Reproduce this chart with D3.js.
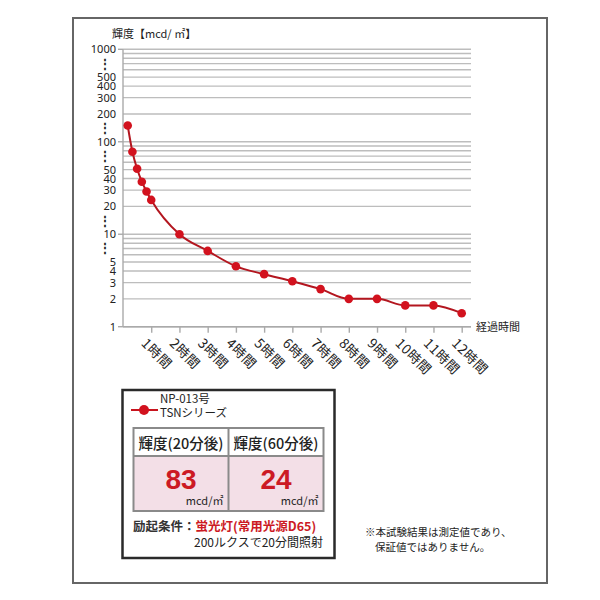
<!DOCTYPE html>
<html>
<head>
<meta charset="utf-8">
<script src="https://cdn.jsdelivr.net/npm/d3@7"></script>
<style>
  body { margin: 0; background: #fff; }
  svg { display: block; }
  text { font-family: "Noto Sans CJK JP", "Noto Sans", sans-serif; fill: #222; }
</style>
</head>
<body>
<div id="chart"></div>
<script>
// ---------- Data ----------
const minutes   = [10, 20, 30, 40, 50, 60, 120, 180, 240, 300, 360, 420, 480, 540, 600, 660, 720];
const luminance = [150, 78, 51, 37, 29, 23.5, 10, 6.6, 4.5, 3.7, 3.1, 2.55, 2, 2, 1.7, 1.7, 1.4];

const hourTicks  = [60, 120, 180, 240, 300, 360, 420, 480, 540, 600, 660, 720];
const hourLabels = ["1時間", "2時間", "3時間", "4時間", "5時間", "6時間",
                    "7時間", "8時間", "9時間", "10時間", "11時間", "12時間"];

const yLabelValues = [1000, 707, 500, 400, 300, 200, 141, 100, 71, 50, 40, 30, 20, 14.1, 10, 7.07, 5, 4, 3, 2, 1];
const yLabelTexts  = ["1000", "⋮", "500", "400", "300", "200", "⋮", "100", "⋮", "50", "40", "30", "20", "⋮", "10", "⋮", "5", "4", "3", "2", "1"];
const yMajor = [1, 10, 100, 1000];

const seriesName   = ["NP-013号", "TSNシリーズ"];
const tableHeaders = ["輝度(20分後)", "輝度(60分後)"];
const tableValues  = ["83", "24"];
const unit = "mcd/㎡";

// ---------- Layout ----------
const width = 600, height = 600;
const plot = { left: 123, right: 471, top: 49.3, bottom: 326.7 };

const svg = d3.select("#chart").append("svg")
  .attr("width", width)
  .attr("height", height);

// outer frame
svg.append("rect")
  .attr("x", 73).attr("y", 18)
  .attr("width", 474).attr("height", 565)
  .attr("fill", "none")
  .attr("stroke", "#666")
  .attr("stroke-width", 2);

// ---------- Scales ----------
const x = d3.scaleLinear().domain([0, 720]).range([plot.left, 461.7]);
const y = d3.scaleLog().domain([1, 1000]).range([plot.bottom, plot.top]);

// ---------- Grid ----------
svg.append("g")
  .selectAll("line")
  .data(y.ticks())
  .join("line")
  .attr("x1", plot.left).attr("x2", plot.right)
  .attr("y1", d => y(d)).attr("y2", d => y(d))
  .attr("stroke", "#bdbdbd")
  .attr("stroke-width", 1.4);

// major ticks to the left
svg.append("g")
  .selectAll("line")
  .data(yMajor)
  .join("line")
  .attr("x1", plot.left - 5).attr("x2", plot.left)
  .attr("y1", d => y(d)).attr("y2", d => y(d))
  .attr("stroke", "#aaa")
  .attr("stroke-width", 1.4);

// y axis line
svg.append("line")
  .attr("x1", plot.left).attr("x2", plot.left)
  .attr("y1", plot.top).attr("y2", plot.bottom)
  .attr("stroke", "#aaa").attr("stroke-width", 1.4);

// y labels
svg.append("g")
  .selectAll("text")
  .data(yLabelValues)
  .join("text")
  .attr("x", 116)
  .attr("y", d => y(d))
  .attr("dy", "0.36em")
  .attr("text-anchor", "end")
  .style("font-family", "'Noto Sans', sans-serif")
  .style("font-size", (d, i) => yLabelTexts[i] === "⋮" ? "12px" : "11px")
  .style("font-weight", (d, i) => yLabelTexts[i] === "⋮" ? "bold" : "normal")
  .attr("dx", (d, i) => yLabelTexts[i] === "⋮" ? -5 : 0)
  .text((d, i) => yLabelTexts[i]);

svg.append("text")
  .attr("x", 112).attr("y", 38)
  .style("font-size", "11px")
  .text("輝度【mcd/ ㎡】");

// ---------- X axis ----------
const xAxis = svg.append("g")
  .attr("transform", `translate(0,${plot.bottom})`)
  .call(d3.axisBottom(x).tickValues(hourTicks).tickSize(6).tickFormat(""));
xAxis.select(".domain")
  .attr("d", `M${plot.left},0H${plot.right}`)
  .attr("stroke", "#aaa").attr("stroke-width", 1.4);
xAxis.selectAll(".tick line").attr("stroke", "#aaa").attr("stroke-width", 1.4);

svg.append("g")
  .selectAll("text")
  .data(hourTicks)
  .join("text")
  .attr("transform", d => `translate(${x(d) - 3},${plot.bottom + 10}) rotate(45)`)
  .attr("dy", "0.8em")
  .style("font-size", "13.5px")
  .style("letter-spacing", "0.5px")
  .text((d, i) => hourLabels[i]);

svg.append("text")
  .attr("x", 476).attr("y", 331)
  .style("font-size", "11px")
  .text("経過時間");

// ---------- Line ----------
const pts = minutes.map((m, i) => [m, luminance[i]]);

svg.append("path")
  .datum(pts)
  .attr("fill", "none")
  .attr("stroke", "#b3161f")
  .attr("stroke-width", 2)
  .attr("d", d3.line().x(d => x(d[0])).y(d => y(d[1])).curve(d3.curveMonotoneX));

svg.append("g")
  .selectAll("circle")
  .data(pts)
  .join("circle")
  .attr("cx", d => x(d[0]))
  .attr("cy", d => y(d[1]))
  .attr("r", 4.3)
  .attr("fill", "#d2121e");

// ---------- Legend box ----------
const lg = svg.append("g");
lg.append("rect")
  .attr("x", 122.5).attr("y", 390)
  .attr("width", 212).attr("height", 168)
  .attr("fill", "#fff")
  .attr("stroke", "#2a2a2a")
  .attr("stroke-width", 2.5);

lg.append("line")
  .attr("x1", 131).attr("x2", 158).attr("y1", 410).attr("y2", 410)
  .attr("stroke", "#c8141e").attr("stroke-width", 2);
lg.append("circle")
  .attr("cx", 144).attr("cy", 410).attr("r", 5)
  .attr("fill", "#d2121e");
lg.selectAll("text.series")
  .data(seriesName)
  .join("text")
  .attr("class", "series")
  .attr("x", 160)
  .attr("y", (d, i) => 403 + i * 14)
  .style("font-size", "11.5px")
  .text(d => d);

// table
const tx = d3.scaleBand().domain([0, 1]).range([133.5, 323.5]);
const headTop = 428, headBot = 456, tableBot = 511;

lg.selectAll("rect.cell")
  .data([0, 1])
  .join("rect")
  .attr("class", "cell")
  .attr("x", d => tx(d)).attr("y", headBot)
  .attr("width", tx.bandwidth()).attr("height", tableBot - headBot)
  .attr("fill", "#f3dfe7");

lg.append("rect")
  .attr("x", 133.5).attr("y", headTop)
  .attr("width", 190).attr("height", tableBot - headTop)
  .attr("fill", "none")
  .attr("stroke", "#8a8a8a").attr("stroke-width", 2);
lg.append("line")
  .attr("x1", 133.5).attr("x2", 323.5).attr("y1", headBot).attr("y2", headBot)
  .attr("stroke", "#8a8a8a").attr("stroke-width", 2);
lg.append("line")
  .attr("x1", tx(1)).attr("x2", tx(1)).attr("y1", headTop).attr("y2", tableBot)
  .attr("stroke", "#8a8a8a").attr("stroke-width", 2);

lg.selectAll("text.head")
  .data(tableHeaders)
  .join("text")
  .attr("class", "head")
  .attr("x", (d, i) => tx(i) + tx.bandwidth() / 2)
  .attr("y", 449)
  .attr("text-anchor", "middle")
  .style("font-size", "14.5px")
  .style("font-weight", "500")
  .text(d => d);

lg.selectAll("text.val")
  .data(tableValues)
  .join("text")
  .attr("class", "val")
  .attr("x", (d, i) => tx(i) + tx.bandwidth() / 2)
  .attr("y", 489)
  .attr("text-anchor", "middle")
  .style("font-family", "'Liberation Sans', Arial, sans-serif")
  .style("font-size", "28px")
  .style("font-weight", "bold")
  .style("fill", "#cc1a24")
  .text(d => d);

lg.selectAll("text.unit")
  .data(tableValues)
  .join("text")
  .attr("class", "unit")
  .attr("x", (d, i) => tx(i) + tx.bandwidth() - 5)
  .attr("y", 505)
  .attr("text-anchor", "end")
  .style("font-size", "11px")
  .text(unit);

const cond = lg.append("text")
  .attr("x", 133).attr("y", 531)
  .style("font-size", "12.5px")
  .style("font-weight", "bold");
cond.append("tspan").text("励起条件：").style("fill", "#333");
cond.append("tspan").text("蛍光灯(常用光源D65)").style("fill", "#cc1a24");

lg.append("text")
  .attr("x", 323).attr("y", 547)
  .attr("text-anchor", "end")
  .style("font-size", "12px")
  .text("200ルクスで20分間照射");

// ---------- Footnote ----------
svg.append("text")
  .attr("x", 365).attr("y", 536)
  .style("font-size", "10.5px")
  .text("※本試験結果は測定値であり、");
svg.append("text")
  .attr("x", 375).attr("y", 551)
  .style("font-size", "10.5px")
  .text("保証値ではありません。");
</script>
</body>
</html>
